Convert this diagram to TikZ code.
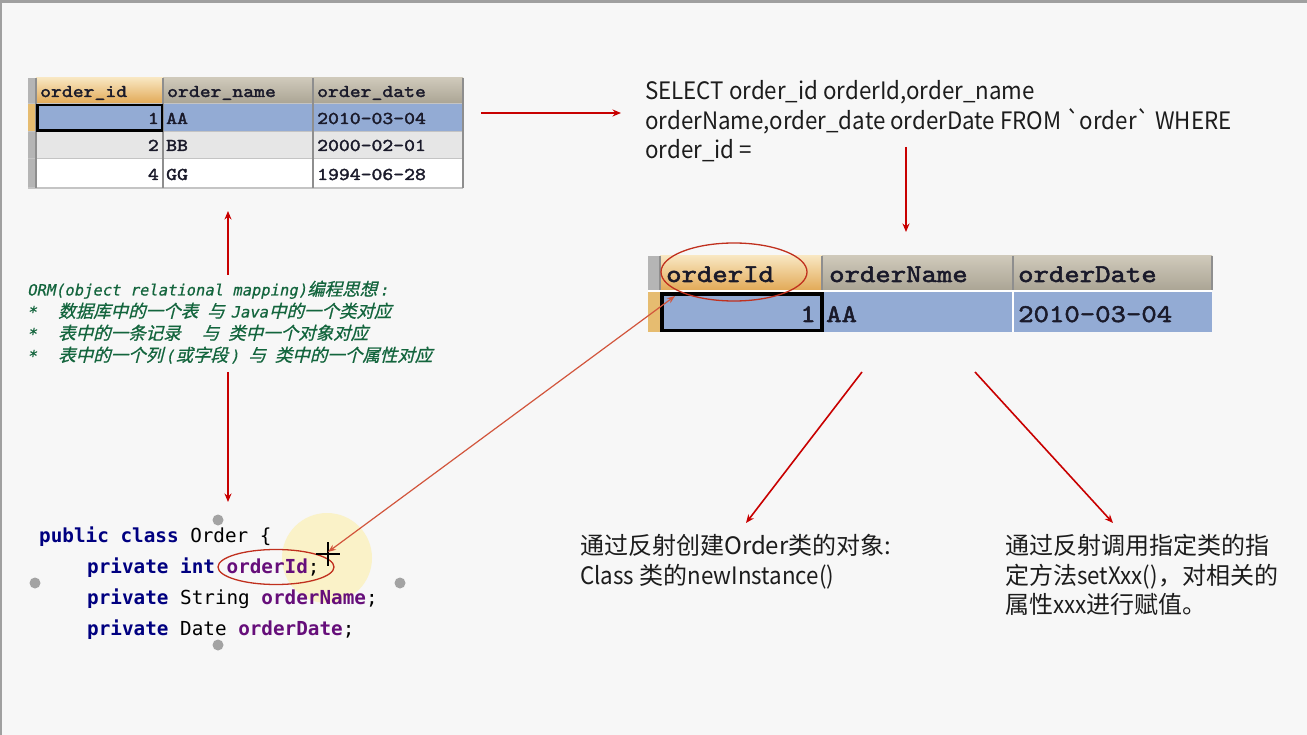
\documentclass[tikz,border=0pt]{standalone}
\usepackage{fontspec}
\usetikzlibrary{arrows.meta}
\newfontfamily\cjk{Noto Sans CJK SC}
\newfontfamily\cjklat{Noto Sans CJK SC}[FakeStretch=0.93]
\newfontfamily\cjkit{Noto Sans CJK SC}[FakeSlant=0.25,FakeBold=0.8]
\newfontfamily\monoit{DejaVu Sans Mono}[FakeSlant=0.2,FakeBold=0.6]
\newfontfamily\codefont{DejaVu Sans Mono}
\newfontfamily\tabfont{lmmono10-regular}[Extension=.otf,FakeBold=2,FakeStretch=1.15]
\definecolor{bg}{HTML}{F7F7F7}
\definecolor{frame}{HTML}{A0A0A0}
\definecolor{arrred}{HTML}{C80000}
\definecolor{diagred}{HTML}{D2553C}
\definecolor{ellred}{HTML}{C0301E}
\definecolor{hdrOtop}{HTML}{F8E6C0}
\definecolor{hdrObot}{HTML}{E2AA58}
\definecolor{hdrGtop}{HTML}{CFC9BA}
\definecolor{hdrGbot}{HTML}{ABA595}
\definecolor{stubgray}{HTML}{B5B5B5}
\definecolor{stuborange}{HTML}{E6BC70}
\definecolor{selblue}{HTML}{93ABD4}
\definecolor{rowtwo}{HTML}{E6E6E6}
\definecolor{gridc}{HTML}{8E8E8E}
\definecolor{gridl}{HTML}{C4C4C4}
\definecolor{tabtext}{HTML}{1A1A2A}
\definecolor{ormgreen}{HTML}{13653D}
\definecolor{kwnavy}{HTML}{000080}
\definecolor{fieldpurple}{HTML}{660E7A}
\definecolor{bodytext}{HTML}{1C1C1C}
\definecolor{handle}{HTML}{A3A3A3}
\definecolor{hilite}{HTML}{FAF2C8}
\tikzset{
  redarr/.style={draw=arrred, line width=1.6pt, -{Stealth[length=8.5pt,width=7pt]}},
  diagarr/.style={draw=diagred, line width=1.2pt, {Stealth[length=8pt,width=6pt]}-{Stealth[length=8pt,width=6pt]}},
  tabA/.style={inner sep=0, text=tabtext, font=\tabfont\fontsize{18}{20}\selectfont},
  tabB/.style={inner sep=0, text=tabtext, font=\tabfont\fontsize{25.5}{28}\selectfont},
  ormline/.style={inner sep=0, anchor=base west, text=ormgreen, text height=12pt, text depth=3pt},
  codeline/.style={inner sep=0, anchor=base west, font=\codefont\fontsize{19.3}{22}\selectfont},
  bodyline/.style={inner sep=0, anchor=base west, text=bodytext},
  framebox/.style={inner sep=0, anchor=north west},
}
\newcommand{\ormL}[1]{{\monoit\fontsize{15.5}{18}\selectfont #1}}
\newcommand{\ormC}[1]{{\cjkit\fontsize{17.5}{20}\selectfont #1}}
\newcommand{\kw}[1]{{\bfseries\color{kwnavy}#1}}
\newcommand{\fld}[1]{{\bfseries\color{fieldpurple}#1}}
\newcommand{\lat}[1]{{\cjklat #1}}
\begin{document}
\begin{tikzpicture}[x=1pt,y=-1pt]
\useasboundingbox (0,0) rectangle (1307,735);
\fill[bg] (0,0) rectangle (1307,735);
\draw[frame, line width=3pt] (0,1.5) -- (1307,1.5);
\draw[frame, line width=1.5pt] (0.75,0) -- (0.75,735);

% ---------- table 1 ----------
\node[framebox, minimum width=435pt, minimum height=110pt] (t1) at (28,78) {};
\fill[stubgray] (28,78) rectangle (36,188);
\fill[stuborange] (28,104) rectangle (36,131);
\shade[top color=hdrOtop, bottom color=hdrObot] (36,78) rectangle (163,103);
\shade[top color=hdrGtop, bottom color=hdrGbot] (163,78) rectangle (463,103);
\fill[selblue] (36,104) rectangle (463,131);
\fill[rowtwo] (36,132) rectangle (463,158);
\fill[white] (36,159) rectangle (463,188);
\draw[gridl, line width=1.5pt] (28,103.5) -- (463,103.5) (28,131.5) -- (463,131.5) (28,158.5) -- (463,158.5) (28,188) -- (463,188);
\draw[gridc, line width=2pt] (36,78) -- (36,188) (163,78) -- (163,188) (313,78) -- (313,188) (463,78) -- (463,188);
\draw[black, line width=2.5pt] (37.5,105) rectangle (162,130.5);
\node[tabA, anchor=base west] (h1) at (40,97) {order\_id};
\node[tabA, anchor=base west] (h2) at (167,97) {order\_name};
\node[tabA, anchor=base west] (h3) at (317,97) {order\_date};
\node[tabA, anchor=base east] (r1a) at (159,124) {1};
\node[tabA, anchor=base west] (r1b) at (166,124) {AA};
\node[tabA, anchor=base west] (r1c) at (317,124) {2010-03-04};
\node[tabA, anchor=base east] (r2a) at (159,151) {2};
\node[tabA, anchor=base west] (r2b) at (166,151) {BB};
\node[tabA, anchor=base west] (r2c) at (317,151) {2000-02-01};
\node[tabA, anchor=base east] (r3a) at (159,180) {4};
\node[tabA, anchor=base west] (r3b) at (166,180) {GG};
\node[tabA, anchor=base west] (r3c) at (317,180) {1994-06-28};

% ---------- SQL ----------
\node[bodyline, font=\cjklat\fontsize{24}{26}\selectfont] (sql1) at (645,100) {SELECT order\_id orderId,order\_name};
\node[bodyline, font=\cjklat\fontsize{24}{26}\selectfont] (sql2) at (645,129.5) {orderName,order\_date orderDate FROM `order` WHERE};
\node[bodyline, font=\cjklat\fontsize{24}{26}\selectfont] (sql3) at (645,159) {order\_id =};

% ---------- table 2 ----------
\node[framebox, minimum width=564pt, minimum height=76pt] (t2) at (648,256) {};
\fill[stubgray] (648,256) rectangle (660,332);
\fill[stuborange] (648,292) rectangle (660,332);
\shade[top color=hdrOtop, bottom color=hdrObot] (660,256) rectangle (822,290);
\shade[top color=hdrGtop, bottom color=hdrGbot] (822,256) rectangle (1212,290);
\fill[selblue] (660,292) rectangle (1212,332);
\draw[white, line width=2pt] (648,291) -- (1212,291);
\draw[gridc, line width=2.5pt] (660,256) -- (660,290) (822,256) -- (822,290) (1013,256) -- (1013,290) (1212,256) -- (1212,290);
\draw[white, line width=2pt] (1013,292) -- (1013,332);
\draw[black, line width=3.5pt] (662,294) rectangle (822,330.5);
\node[tabB, anchor=base west] (k1) at (666,282) {orderId};
\node[tabB, anchor=base west] (k2) at (829,282) {orderName};
\node[tabB, anchor=base west] (k3) at (1018,282) {orderDate};
\node[tabB, anchor=base east] (v1) at (816,322) {1};
\node[tabB, anchor=base west] (v2) at (826,322) {AA};
\node[tabB, anchor=base west] (v3) at (1018,322) {2010-03-04};
\draw[ellred, line width=1.3pt] (734,272) ellipse [x radius=73, y radius=29];

% ---------- ORM text ----------
\node[ormline] (orm1) at (27,295.5) {\ormL{ORM(object relational mapping)}\ormC{编程思想}\hspace{2pt}\ormL{:}};
\node[ormline] (orm2) at (27,317.5) {\makebox[31pt][l]{\ormL{*}}\ormC{数据库中的一个表}\hspace{9pt}\ormC{与}\hspace{6pt}\ormL{Java}\hspace{1pt}\ormC{中的一个类对应}};
\node[ormline] (orm3) at (27,339.5) {\makebox[31pt][l]{\ormL{*}}\ormC{表中的一条记录}\hspace{21pt}\ormC{与}\hspace{9pt}\ormC{类中一个对象对应}};
\node[ormline] (orm4) at (27,361.5) {\makebox[31pt][l]{\ormL{*}}\ormC{表中的一个列}\hspace{2pt}\ormL{(}\hspace{1pt}\ormC{或字段}\hspace{2pt}\ormL{)}\hspace{9pt}\ormC{与}\hspace{9pt}\ormC{类中的一个属性对应}};

% ---------- code ----------
\fill[hilite] (327,558) circle (45);
\node[codeline] (c1) at (39,542) {\kw{public class} Order \{};
\node[codeline] (c2) at (87,573.5) {\kw{private int} \fld{orderId};};
\node[codeline] (c3) at (87,604.5) {\kw{private} String \fld{orderName};};
\node[codeline] (c4) at (87,635.5) {\kw{private} Date \fld{orderDate};};
\draw[ellred, line width=1.3pt] (276,567) ellipse [x radius=58, y radius=17.5];
\fill[handle] (218,520) circle (5.5) (35,583) circle (5.5) (400,583) circle (5.5) (218,645) circle (5.5);
\draw[black, line width=1.2pt] (316,554) -- (340,554) (328,542) -- (328,566);

% ---------- bottom texts ----------
\node[bodyline, font=\cjk\fontsize{24}{26}\selectfont] (l1) at (580,554) {通过反射创建Order类的对象:};
\node[bodyline, font=\cjk\fontsize{24}{26}\selectfont] (l2) at (580,584) {\lat{Class} 类的\lat{newInstance()}};
\node[bodyline, font=\cjk\fontsize{24}{26}\selectfont] (rt1) at (1005,554) {通过反射调用指定类的指};
\node[bodyline, font=\cjk\fontsize{24}{26}\selectfont] (rt2) at (1005,584) {定方法\lat{setXxx()}，对相关的};
\node[bodyline, font=\cjk\fontsize{24}{26}\selectfont] (rt3) at (1005,613) {属性\lat{xxx}进行赋值。};

% ---------- connectors ----------
\coordinate (a1s) at (481,113);
\coordinate (a1e) at (621,113);
\draw[redarr] (a1s) -- (a1e);
\coordinate (a2s) at (906,147);
\coordinate (a2e) at (906,232);
\draw[redarr] (a2s) -- (a2e);
\coordinate (a3s) at (228,275);
\coordinate (a3e) at (228,211);
\draw[redarr] (a3s) -- (a3e);
\coordinate (a4s) at (228,372);
\coordinate (a4e) at (228,502);
\draw[redarr] (a4s) -- (a4e);
\coordinate (a5s) at (862,372);
\coordinate (a5e) at (746,523);
\draw[redarr] (a5s) -- (a5e);
\coordinate (a6s) at (975,372);
\coordinate (a6e) at (1113,523);
\draw[redarr] (a6s) -- (a6e);
\coordinate (dA) at (328,552);
\coordinate (dB) at (675,296);
\draw[diagarr] (dA) -- (dB);
\end{tikzpicture}
\end{document}
